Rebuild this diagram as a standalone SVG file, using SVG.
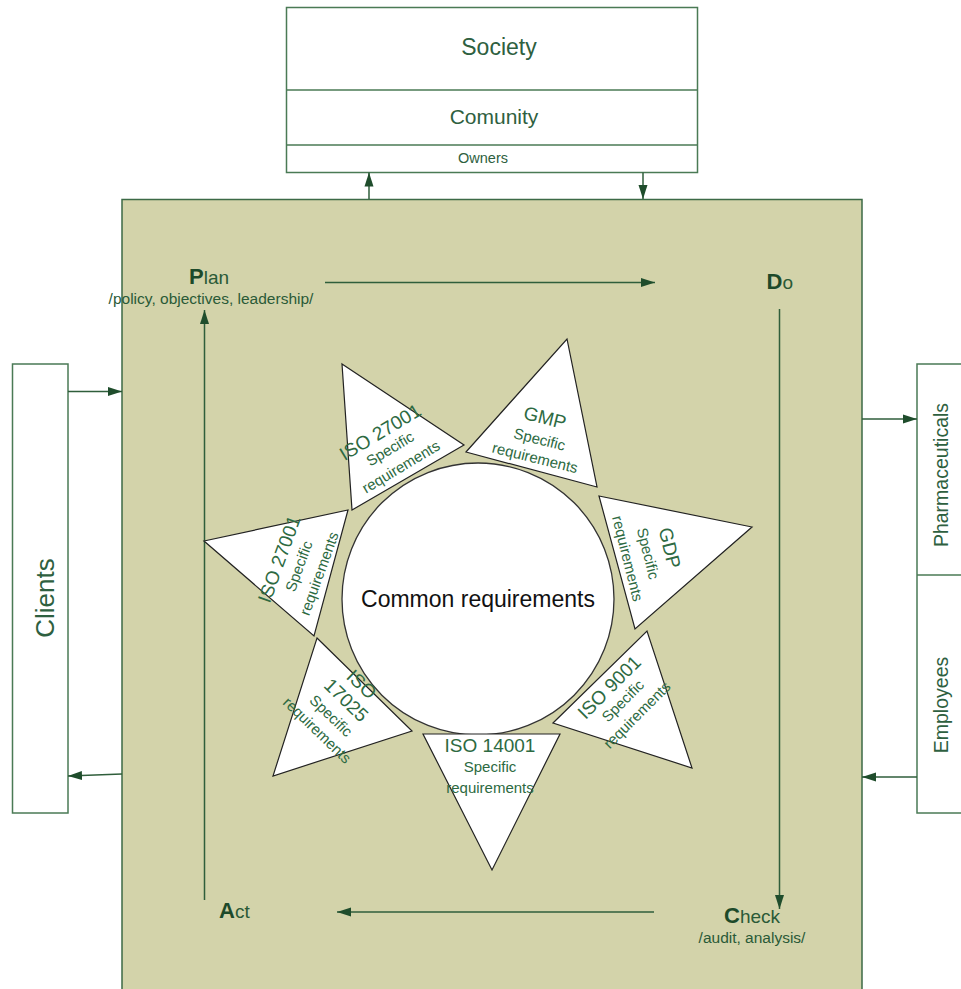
<svg xmlns="http://www.w3.org/2000/svg" width="961" height="989" viewBox="0 0 961 989">
<defs>
<style>
.box{fill:#ffffff;stroke:#4a7a55;stroke-width:1.5}
.main{fill:#d3d3aa;stroke:#3c6a46;stroke-width:1.5}
.tri{fill:#ffffff;stroke:#222222;stroke-width:1.2;stroke-linejoin:miter}
.circ{fill:#ffffff;stroke:#333333;stroke-width:1.3}
.conn{fill:none;stroke:#2f5e3b;stroke-width:1.5}
.t{font-family:"Liberation Sans",Arial,sans-serif}
.lbl{fill:#2e6040}
.tt{fill:#2d6a42;font-size:19px;text-anchor:middle}
.ts{fill:#2d6a42;font-size:15px;text-anchor:middle}
.big{fill:#1d4a2a;font-weight:bold;font-size:22px}
.sm{fill:#2a5a37;font-size:19px;font-weight:normal}
.sub{fill:#2a5a37;font-size:15.5px;text-anchor:middle}
</style>
<marker id="ah" markerWidth="14" markerHeight="10" refX="14" refY="5" orient="auto" markerUnits="userSpaceOnUse">
<path d="M0,0.5 L14,5 L0,9.5 z" fill="#1f4d2c"/>
</marker>
</defs>

<g id="main-box">
<rect class="main" x="122" y="199.5" width="740" height="800"/>
</g>

<g id="top-box">
<rect class="box" x="286.5" y="7.5" width="411" height="165"/>
<line class="box" x1="286.5" y1="90" x2="697.5" y2="90"/>
<line class="box" x1="286.5" y1="145" x2="697.5" y2="145"/>
<text class="t lbl" x="499" y="55" font-size="23" text-anchor="middle">Society</text>
<text class="t lbl" x="494" y="124" font-size="21" text-anchor="middle">Comunity</text>
<text class="t lbl" x="483" y="163" font-size="14.5" text-anchor="middle">Owners</text>
</g>

<g id="clients">
<rect class="box" x="12.5" y="364" width="55.5" height="449"/>
<text class="t lbl" transform="translate(54,598) rotate(-90)" font-size="26" text-anchor="middle">Clients</text>
</g>

<g id="right-boxes">
<rect class="box" x="917" y="364" width="60" height="449"/>
<line class="box" x1="917" y1="575" x2="961" y2="575"/>
<text class="t lbl" transform="translate(948,475) rotate(-90)" font-size="19.5" text-anchor="middle">Pharmaceuticals</text>
<text class="t lbl" transform="translate(948,705) rotate(-90)" font-size="19.5" text-anchor="middle">Employees</text>
</g>

<g id="connectors">
<line class="conn" x1="369" y1="199" x2="369" y2="172.5" marker-end="url(#ah)"/>
<line class="conn" x1="643" y1="172.5" x2="643" y2="199" marker-end="url(#ah)"/>
<line class="conn" x1="68" y1="391.5" x2="122" y2="391.5" marker-end="url(#ah)"/>
<line class="conn" x1="122" y1="774" x2="68" y2="776" marker-end="url(#ah)"/>
<line class="conn" x1="862" y1="419" x2="917" y2="419" marker-end="url(#ah)"/>
<line class="conn" x1="917" y1="777" x2="862" y2="777" marker-end="url(#ah)"/>
<line class="conn" x1="325" y1="282.5" x2="655" y2="282.5" marker-end="url(#ah)"/>
<line class="conn" x1="779.5" y1="309" x2="779.5" y2="909" marker-end="url(#ah)"/>
<line class="conn" x1="654" y1="912" x2="337" y2="912" marker-end="url(#ah)"/>
<line class="conn" x1="204.5" y1="900" x2="204.5" y2="310" marker-end="url(#ah)"/>
</g>

<g id="plan">
<text class="t" x="189" y="283.5"><tspan class="big">P</tspan><tspan class="sm">lan</tspan></text>
<text class="t sub" x="211" y="303.5">/policy, objectives, leadership/</text>
</g>
<g id="do">
<text class="t" x="766.5" y="288.5"><tspan class="big">D</tspan><tspan class="sm">o</tspan></text>
</g>
<g id="check">
<text class="t" x="724" y="922.5"><tspan class="big">C</tspan><tspan class="sm">heck</tspan></text>
<text class="t sub" x="752" y="943">/audit, analysis/</text>
</g>
<g id="act">
<text class="t" x="219" y="918"><tspan class="big">A</tspan><tspan class="sm">ct</tspan></text>
</g>

<g id="common">
<circle class="circ" cx="478" cy="599" r="136"/>
<text class="t" x="478" y="607" font-size="23" fill="#111111" text-anchor="middle">Common requirements</text>
</g>

<g id="tri-iso27001-top">
<polygon class="tri" points="342,364 464,445 352,510"/>
<g transform="translate(383.5,437.8) rotate(-31)">
<text class="t tt" x="0" y="0">ISO 27001</text>
<text class="t ts" x="0" y="18">Specific</text>
<text class="t ts" x="0" y="39">requirements</text>
</g>
</g>

<g id="tri-gmp">
<polygon class="tri" points="466,452 567,339 597,487"/>
<g transform="translate(543.4,424) rotate(14)">
<text class="t tt" x="0" y="0">GMP</text>
<text class="t ts" x="0" y="21">Specific</text>
<text class="t ts" x="0" y="40">requirements</text>
</g>
</g>

<g id="tri-gdp">
<polygon class="tri" points="599,496 752,527 635,629"/>
<g transform="translate(663.4,549.6) rotate(76)">
<text class="t tt" x="0" y="0">GDP</text>
<text class="t ts" x="0" y="21">Specific</text>
<text class="t ts" x="0" y="42">requirements</text>
</g>
</g>

<g id="tri-iso9001">
<polygon class="tri" points="553,723 647,631 692,768"/>
<g transform="translate(613.8,691.8) rotate(-45)">
<text class="t tt" x="0" y="0">ISO 9001</text>
<text class="t ts" x="0" y="18">Specific</text>
<text class="t ts" x="0" y="38">requirements</text>
</g>
</g>

<g id="tri-iso14001">
<polygon class="tri" points="423,734 560,734 492,870"/>
<g transform="translate(490,752)">
<text class="t tt" x="0" y="0">ISO 14001</text>
<text class="t ts" x="0" y="20">Specific</text>
<text class="t ts" x="0" y="41">requirements</text>
</g>
</g>

<g id="tri-iso17025">
<polygon class="tri" points="317,638 412,731 273,776"/>
<g transform="translate(357,689) rotate(44)">
<text class="t tt" x="0" y="0">ISO</text>
<text class="t tt" x="0" y="22">17025</text>
<text class="t ts" x="0" y="42.5">Specific</text>
<text class="t ts" x="0" y="62.5">requirements</text>
</g>
</g>

<g id="tri-iso27001-left">
<polygon class="tri" points="204,541 348,510 314,636"/>
<g transform="translate(285.4,561.3) rotate(-70)">
<text class="t tt" x="0" y="0">ISO 27001</text>
<text class="t ts" x="0" y="19.5">Specific</text>
<text class="t ts" x="0" y="41">requirements</text>
</g>
</g>
</svg>
